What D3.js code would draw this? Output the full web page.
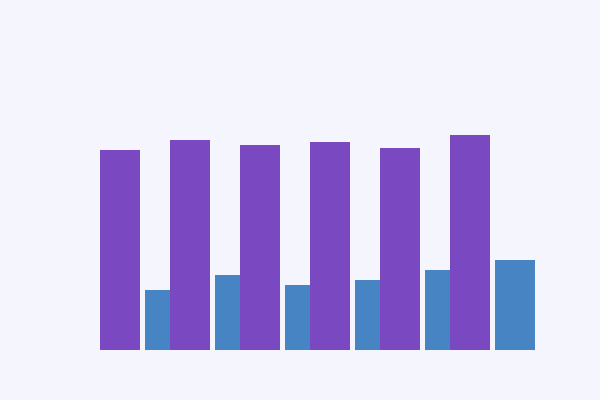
<!DOCTYPE html>
<html lang="en">
<head>
  <meta charset="UTF-8">
  <title>Bars</title>
  <script src="https://d3js.org/d3.v7.min.js"></script>
  <style>
    html, body { margin: 0; padding: 0; background: #f4f5fd; }
    svg { display: block; }
  </style>
</head>
<body>
  <svg id="chart" width="600" height="400"></svg>
  <script>
    const categories = ['A', 'B', 'C', 'D', 'E', 'F'];
    const purpleValues = [200, 210, 205, 208, 202, 215];
    const blueValues = [60, 75, 65, 70, 80, 90];

    const width = 600, height = 400;
    const svg = d3.select('#chart');

    svg.append('rect')
      .attr('width', width).attr('height', height)
      .attr('fill', '#f4f5fd');

    const x = d3.scaleBand()
      .domain(categories)
      .range([100, 490])
      .paddingInner(3 / 7)
      .paddingOuter(0);

    const y = d3.scaleLinear()
      .domain([0, 250])
      .range([350, 100]);

    const blueOffset = 45;

    // blue bars go underneath so the next purple bar overlaps them
    svg.selectAll('rect.blue')
      .data(blueValues)
      .enter().append('rect')
      .attr('class', 'blue')
      .attr('x', (d, i) => x(categories[i]) + blueOffset)
      .attr('y', d => y(d))
      .attr('width', x.bandwidth())
      .attr('height', d => y(0) - y(d))
      .attr('fill', '#4684c4');

    svg.selectAll('rect.purple')
      .data(purpleValues)
      .enter().append('rect')
      .attr('class', 'purple')
      .attr('x', (d, i) => x(categories[i]))
      .attr('y', d => y(d))
      .attr('width', x.bandwidth())
      .attr('height', d => y(0) - y(d))
      .attr('fill', '#7a48c1');
  </script>
</body>
</html>
